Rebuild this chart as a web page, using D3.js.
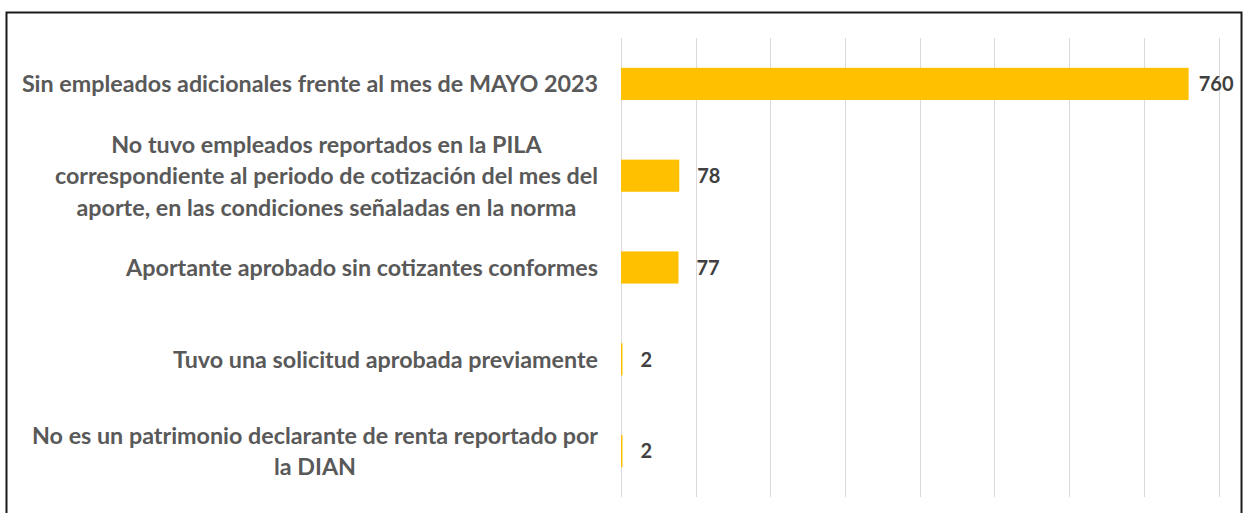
<!DOCTYPE html>
<html>
<head>
<meta charset="utf-8">
<script src="https://cdn.jsdelivr.net/npm/d3@7"></script>
<style>
  body { margin: 0; background: #fff; }
  svg { display: block; }
</style>
</head>
<body>
<div id="chart"></div>
<script>
// categories (each entry is the wrapped lines of one label) and values
var categories = [
  ["Sin empleados adicionales frente al mes de MAYO 2023"],
  ["No tuvo empleados reportados en la PILA",
   "correspondiente al periodo de cotización del mes del",
   "aporte, en las condiciones señaladas en la norma"],
  ["Aportante aprobado sin cotizantes conformes"],
  ["Tuvo una solicitud aprobada previamente"],
  ["No es un patrimonio declarante de renta reportado por",
   "la DIAN"]
];
var values = [760, 78, 77, 2, 2];
var ticks = [0, 100, 200, 300, 400, 500, 600, 700, 800];

var W = 1248, H = 513;
var margin = {top: 38, right: 29.5, bottom: 16, left: 621};
var width = W - margin.left - margin.right,
    height = H - margin.top - margin.bottom;

var svg = d3.select("#chart").append("svg")
  .attr("width", W)
  .attr("height", H);

// outer frame
svg.append("rect")
  .attr("x", 6.5).attr("y", 12.5)
  .attr("width", 1235).attr("height", 510)
  .attr("fill", "none")
  .attr("stroke", "#1a1a1a")
  .attr("stroke-width", 2);

var g = svg.append("g")
  .attr("transform", "translate(" + margin.left + "," + margin.top + ")");

var keys = categories.map(function(d, i) { return i; });

var x = d3.scaleLinear().domain([0, 800]).range([0, width]);
var y = d3.scaleBand().domain(keys).range([0, height]).paddingInner(0.65).paddingOuter(0.325);

// gridlines
g.append("g")
  .selectAll("line")
  .data(ticks)
  .join("line")
  .attr("x1", function(d) { return Math.round(x(d)) + 0.5; })
  .attr("x2", function(d) { return Math.round(x(d)) + 0.5; })
  .attr("y1", 0)
  .attr("y2", height)
  .attr("stroke", "#d9d9d9")
  .attr("stroke-width", 1);

// bars
g.selectAll("rect.bar")
  .data(values)
  .join("rect")
  .attr("class", "bar")
  .attr("x", x(0))
  .attr("y", function(d, i) { return y(i); })
  .attr("width", function(d) { return x(d) - x(0); })
  .attr("height", y.bandwidth())
  .attr("fill", "#ffc000");

// value labels (kept inside the plot area like Excel does)
g.selectAll("text.val")
  .data(values)
  .join("text")
  .attr("class", "val")
  .attr("y", function(d, i) { return y(i) + y.bandwidth() / 2; })
  .attr("dy", "0.36em")
  .attr("font-family", "Lato, 'Open Sans', sans-serif")
  .attr("font-weight", "bold")
  .attr("font-size", "20px")
  .attr("fill", "#404040")
  .text(function(d) { return d; })
  .attr("x", function(d) {
    var w = this.getComputedTextLength();
    return Math.min(x(d) + 18, width + 15 - w);
  });

// category labels: block right-aligned, lines centred inside it
var lineH = 31.5;
var labels = g.selectAll("g.lab")
  .data(categories)
  .join("g")
  .attr("class", "lab");

labels.each(function(lines, i) {
  var grp = d3.select(this);
  var cy = y(i) + y.bandwidth() / 2;
  var t = grp.selectAll("text")
    .data(lines)
    .join("text")
    .attr("font-family", "Lato, 'Open Sans', sans-serif")
    .attr("font-weight", "bold")
    .attr("font-size", "23.3px")
    .attr("fill", "#595959")
    .attr("text-anchor", "middle")
    .attr("y", function(d, j) { return cy + (j - (lines.length - 1) / 2) * lineH; })
    .attr("dy", "0.36em")
    .text(function(d) { return d; });
  var maxW = 0;
  t.each(function() { maxW = Math.max(maxW, this.getComputedTextLength()); });
  t.attr("x", -23 - maxW / 2);
});
</script>
</body>
</html>
